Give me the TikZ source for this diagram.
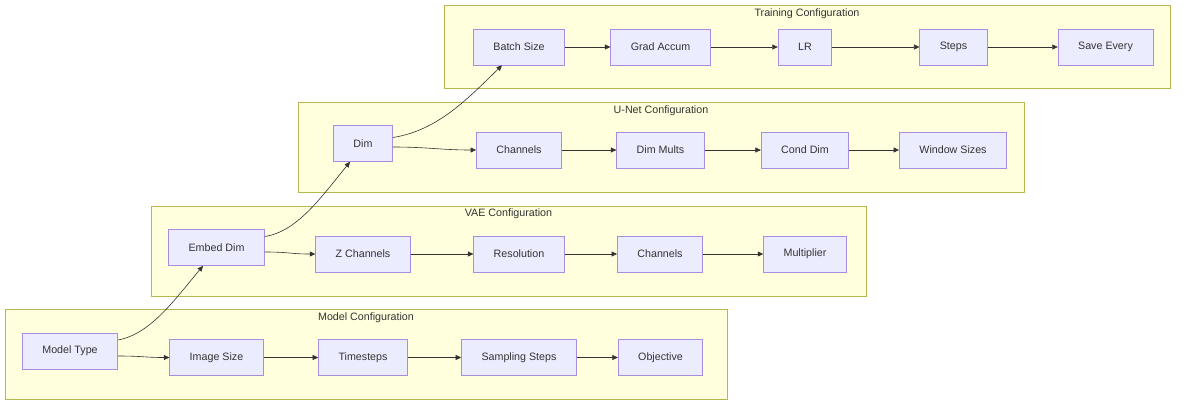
\documentclass[tikz,border=0pt]{standalone}
\usepackage{fontspec}
\setmainfont{Liberation Sans}
\usetikzlibrary{arrows.meta}
\definecolor{boxfill}{HTML}{ECECFF}
\definecolor{boxline}{HTML}{9370DB}
\definecolor{clusterfill}{HTML}{FFFFDE}
\definecolor{clusterline}{HTML}{AAAA33}
\definecolor{ink}{HTML}{333333}
\tikzset{
  box/.style={draw=boxline!80!white, fill=boxfill, line width=0.7pt, text=ink,
    minimum height=36pt, inner xsep=20pt, font=\fontsize{10.7}{12}\selectfont},
  cluster/.style={draw=clusterline!85!white, fill=clusterfill, line width=0.7pt},
  clusterlabel/.style={text=ink, inner sep=0pt, font=\fontsize{10.7}{12}\selectfont},
  edge/.style={draw=ink, line width=0.6pt, -{Triangle[length=5.5pt,width=5pt]}}
}
\begin{document}
\begin{tikzpicture}[x=1pt,y=-1pt]
      \useasboundingbox (0,0) rectangle (1184,408);
      % configuration groups
      \draw[cluster] (444,5) rectangle (1170,88);
      \draw[cluster] (298,102) rectangle (1024,192);
      \draw[cluster] (151,206) rectangle (866,296);
      \draw[cluster] (5,309) rectangle (727,399);
      \node[clusterlabel] (trainlbl) at (807,13.5) {Training Configuration};
      \node[clusterlabel] (unetlbl) at (661,110.5) {U-Net Configuration};
      \node[clusterlabel] (vaelbl) at (508.5,213.5) {VAE Configuration};
      \node[clusterlabel] (modellbl) at (366,317.5) {Model Configuration};
      % training
      \node[box] (bs) at (519,47) {Batch Size};
      \node[box] (ga) at (660.5,47) {Grad Accum};
      \node[box] (lr) at (805,47) {LR};
      \node[box] (st) at (953.5,47) {Steps};
      \node[box] (se) at (1105.5,47) {Save Every};
      % u-net
      \node[box] (dim) at (363,143.5) {Dim};
      \node[box] (ch) at (519,150) {Channels};
      \node[box] (dm) at (660.5,150) {Dim Mults};
      \node[box] (cd) at (805,150) {Cond Dim};
      \node[box] (ws) at (953,150) {Window Sizes};
      % vae
      \node[box] (ed) at (216.5,247.5) {Embed Dim};
      \node[box] (zc) at (363,254) {Z Channels};
      \node[box] (res) at (519,254) {Resolution};
      \node[box] (vch) at (660,254) {Channels};
      \node[box] (mul) at (805,254) {Multiplier};
      % model
      \node[box] (mt) at (70,351) {Model Type};
      \node[box] (is) at (216.5,357.5) {Image Size};
      \node[box] (ts) at (363,357.5) {Timesteps};
      \node[box] (ss) at (519,357.5) {Sampling Steps};
      \node[box] (obj) at (660.5,357.5) {Objective};
      \begin{scope}[edge]
        \draw ([yshift=11pt]mt.east) .. controls +(32,-6) and +(-30,36) .. ([xshift=-13.5pt]ed.south);
        \draw ([yshift=-5pt]mt.east) .. controls +(25,0) and +(-25,0) .. (is.west);
        \draw (is) to (ts);
        \draw (ts) to (ss);
        \draw (ss) to (obj);
        \draw ([yshift=11pt]ed.east) .. controls +(32,-5) and +(-30,37) .. ([xshift=-13pt]dim.south);
        \draw ([yshift=-4.5pt]ed.east) .. controls +(25,0) and +(-25,0) .. (zc.west);
        \draw (zc) to (res);
        \draw (res) to (vch);
        \draw (vch) to (mul);
        \draw ([yshift=6pt]dim.east) .. controls +(45,-7) and +(-34,33) .. ([xshift=-17pt]bs.south);
        \draw ([yshift=-3.5pt]dim.east) .. controls +(35,0) and +(-35,0) .. (ch.west);
        \draw (ch) to (dm);
        \draw (dm) to (cd);
        \draw (cd) to (ws);
        \draw (bs) to (ga);
        \draw (ga) to (lr);
        \draw (lr) to (st);
        \draw (st) to (se);
      \end{scope}
    \end{tikzpicture}
\end{document}
